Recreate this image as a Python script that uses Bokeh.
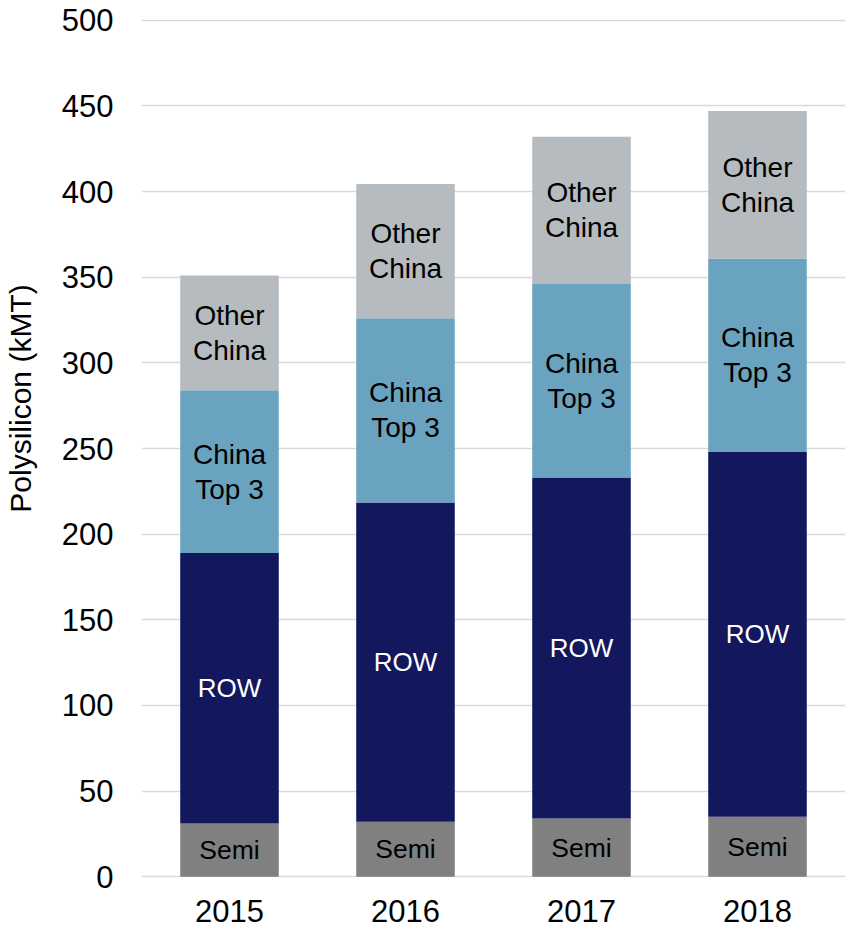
from bokeh.plotting import figure
from bokeh.models import ColumnDataSource, Range1d, SingleIntervalTicker
from bokeh.core.properties import value
from bokeh.embed import file_html
from bokeh.resources import INLINE

years = ["2015", "2016", "2017", "2018"]
semi = [31, 32, 34, 35]
row = [158, 186.5, 199, 213]
china_top3 = [95, 107.5, 113, 113]
other_china = [67, 78.5, 86, 86]

series = ["semi", "row", "top3", "other"]
names = ["Semi", "ROW", "China\nTop 3", "Other\nChina"]
colors = ["#808080", "#12175E", "#6AA3BF", "#B6BBC0"]
text_colors = ["#000000", "#FFFFFF", "#000000", "#000000"]
sizes = ["26.5px", "26px", "28px", "28px"]

FONT = "Liberation Sans"

src = ColumnDataSource(dict(years=years, semi=semi, row=row, top3=china_top3, other=other_china))

p = figure(x_range=years, y_range=Range1d(-0.5, 500.5), width=846, height=930,
           output_backend="svg", toolbar_location=None,
           min_border_left=140, min_border_right=1, min_border_top=19, min_border_bottom=53)

p.vbar_stack(series, x="years", width=0.56, color=colors, line_color=None, source=src)

# labels at segment centers
values = [semi, row, china_top3, other_china]
for i in range(len(series)):
    xs, ys, ts = [], [], []
    for j, yr in enumerate(years):
        base = sum(values[k][j] for k in range(i))
        xs.append(yr)
        ys.append(base + values[i][j] / 2)
        ts.append(names[i])
    p.text(x=xs, y=ys, text=ts, text_align="center", text_baseline="middle",
           text_font=value(FONT), text_font_size=sizes[i], text_color=text_colors[i],
           text_line_height=1.13)

p.outline_line_color = None
p.xgrid.grid_line_color = None
p.ygrid.grid_line_color = "#D9D9D9"
p.ygrid.grid_line_width = 1.5

p.yaxis.ticker = SingleIntervalTicker(interval=50)
for ax in (p.xaxis[0], p.yaxis[0]):
    ax.axis_line_color = None
    ax.major_tick_line_color = None
    ax.minor_tick_line_color = None
    ax.major_tick_out = 0
    ax.minor_tick_out = 0
    ax.major_label_text_font = FONT
    ax.major_label_text_font_size = "31px"
    ax.major_label_text_color = "#000000"

p.yaxis.major_label_standoff = 28
p.xaxis.major_label_standoff = 22

# label sits above the frame's centre in the original; pad with non-breaking spaces
p.yaxis.axis_label = "\u00a0" * 12 + "Polysilicon (kMT)"
p.yaxis.axis_label_text_font = FONT
p.yaxis.axis_label_text_font_size = "30px"
p.yaxis.axis_label_text_font_style = "normal"
p.yaxis.axis_label_text_color = "#000000"
p.yaxis.axis_label_standoff = 22

open("out.html", "w").write(file_html(p, INLINE))
